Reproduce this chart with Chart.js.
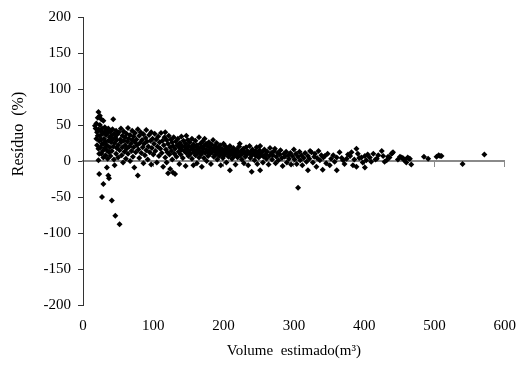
<!DOCTYPE html>
<html>
<head>
<meta charset="utf-8">
<script src="https://cdn.jsdelivr.net/npm/chart.js@4.4.1/dist/chart.umd.min.js"></script>
<style>
  html, body { margin: 0; padding: 0; background: #fff; }
  canvas { display: block; }
</style>
</head>
<body>
<canvas id="residuos" width="518" height="365"></canvas>
<script>
// axis labels and ranges
const tituloX = "Volume  estimado(m³)";
const tituloY = "Resíduo  (%)";
const limitesX = [0, 600];   // passo 100
const limitesY = [-200, 200]; // passo 50

// [volume estimado (m³), resíduo (%)]
const faixa1 = [ // 15 - 40 m³
  [17,49],[18,45],[19,31],[19,52],[20,40],[20,22],[21,60],[21,35],[22,68],[22,44],[22,17],[22,1],
  [23,28],[23,-18],[23,10],[24,63],[24,35],[24,50],[25,19],[25,42],[26,58],[26,10],[26,30],[27,-50],
  [27,45],[27,24],[28,14],[28,38],[29,56],[29,-32],[29,24],[29,5],[30,40],[30,31],[31,18],[31,47],
  [32,8],[32,27],[33,36],[33,43],[34,-9],[34,15],[34,22],[35,39],[35,3],[36,-20],[36,28],[36,45],
  [37,-24],[37,12],[38,33],[38,19],[39,41],[39,7],[40,26],[40,35]
];
const faixa2 = [ // 40 - 100 m³
  [41,-55],[41,14],[42,44],[42,30],[43,58],[43,20],[44,38],[44,2],[45,-6],[45,25],[46,-76],[46,33],
  [47,10],[47,42],[48,18],[48,29],[49,37],[50,5],[50,22],[51,40],[52,-88],[52,15],[53,30],[54,26],
  [54,45],[55,8],[56,35],[56,19],[57,-2],[58,28],[58,41],[59,13],[60,33],[60,22],[61,3],[62,38],
  [62,17],[63,27],[64,46],[64,10],[65,31],[66,20],[67,36],[67,0],[68,24],[69,14],[70,42],[70,29],
  [71,6],[72,34],[72,19],[73,-9],[74,26],[74,39],[75,12],[76,30],[77,22],[78,-20],[78,44],[79,16],
  [80,35],[80,4],[81,25],[82,40],[83,11],[84,29],[85,19],[86,-3],[86,37],[87,24],[88,8],[89,32],
  [90,15],[90,43],[91,27],[92,2],[93,20],[94,36],[95,12],[96,28],[97,-5],[97,40],[98,18],[99,31],[100,9]
];
const faixa3 = [ // 100 - 150 m³
  [101,24],[102,38],[103,14],[104,30],[105,-2],[106,20],[107,34],[108,7],[109,26],[110,17],[111,39],
  [112,11],[113,28],[114,-8],[115,22],[116,33],[117,40],[117,5],[118,16],[119,-2],[119,29],[120,12],
  [121,-17],[121,24],[122,35],[123,9],[124,-11],[124,19],[125,30],[126,14],[127,2],[127,26],[128,-16],
  [128,21],[129,33],[130,10],[131,-18],[131,17],[132,27],[133,6],[134,22],[135,31],[136,13],[137,-4],
  [137,19],[138,25],[139,9],[140,16],[140,34],[141,21],[142,4],[143,28],[144,14],[145,19],[146,-7],
  [146,24],[147,35],[147,11],[148,17],[149,29],[150,7],[150,21]
];
const faixa4 = [ // 150 - 220 m³
  [151,14],[152,26],[153,10],[154,19],[155,31],[155,3],[156,16],[157,-6],[157,23],[158,12],[159,20],
  [160,28],[160,8],[161,15],[162,-3],[162,22],[163,11],[164,18],[165,33],[165,5],[166,14],[167,24],
  [168,9],[168,19],[169,-8],[170,13],[170,27],[171,17],[172,4],[172,21],[173,31],[174,11],[175,16],
  [175,24],[176,0],[177,13],[178,20],[178,7],[179,26],[180,15],[181,10],[181,19],[182,-4],[183,23],
  [184,12],[185,17],[185,29],[186,6],[187,14],[188,21],[189,9],[190,16],[190,25],[191,2],[192,12],
  [193,19],[194,7],[195,14],[195,22],[196,-6],[197,10],[198,17],[199,4],[200,13],[200,24],[201,8],
  [202,15],[203,20],[204,-2],[205,11],[206,17],[207,6],[208,13],[209,-13],[209,21],[210,9],[211,15],
  [212,3],[213,11],[214,18],[215,7],[216,13],[217,-5],[218,10],[219,16],[220,5]
];
const faixa5 = [ // 220 - 300 m³
  [221,12],[222,20],[223,24],[224,8],[225,14],[226,2],[227,10],[228,17],[229,-3],[230,12],[231,6],
  [232,19],[233,9],[234,14],[235,-6],[236,11],[237,21],[238,4],[239,13],[240,-15],[240,8],[241,16],
  [243,10],[244,1],[245,14],[246,7],[247,19],[248,-4],[249,11],[250,5],[251,15],[252,-13],[252,21],
  [253,8],[255,12],[256,-2],[257,6],[258,16],[260,9],[261,3],[262,13],[264,-5],[265,7],[266,18],
  [268,11],[269,2],[270,8],[272,14],[273,17],[274,-3],[275,6],[277,11],[278,1],[280,9],[281,15],
  [283,4],[284,-7],[286,10],[287,6],[289,13],[290,-2],[292,8],[293,3],[295,11],[296,-5],[298,7],
  [300,16],[301,2]
];
const faixa6 = [ // 300 m³ em diante
  [303,10],[304,-4],[306,-37],[306,6],[308,13],[309,1],[311,8],[312,-6],[314,4],[316,11],[318,-1],
  [320,-13],[320,7],[322,3],[323,14],[325,12],[327,-2],[329,6],[330,10],[332,-8],[333,4],[335,14],
  [337,1],[339,8],[341,-12],[342,5],[344,7],[346,-3],[348,10],[351,-6],[353,3],[356,8],[358,-1],
  [361,-13],[361,5],[365,12],[368,4],[370,1],[372,-4],[375,3],[377,9],[380,7],[382,12],[384,-6],
  [386,2],[389,17],[389,-8],[391,10],[393,4],[396,5],[398,-2],[401,7],[401,-9],[403,1],[405,9],
  [408,5],[410,-1],[413,10],[416,2],[418,3],[420,8],[425,14],[427,7],[429,-1],[432,1],[434,6],
  [436,5],[439,10],[440,11],[441,12],[448,2],[451,6],[453,5],[455,4],[457,1],[458,2],[460,-2],
  [462,5],[464,3],[465,3],[467,-5],[485,6],[491,3],[503,6],[506,8],[508,7],[510,7],[540,-4],[571,9]
];

const pontos = [].concat(faixa1, faixa2, faixa3, faixa4, faixa5, faixa6)
  .map(p => ({ x: p[0], y: p[1] }));

const serif = '"Liberation Serif", "Times New Roman", serif';

// y title drawn by hand so it can sit a bit above the plot centre, like the original
const tituloYPlugin = {
  id: "tituloY",
  afterDraw(chart) {
    const ctx = chart.ctx;
    ctx.save();
    ctx.translate(18.5, 134);
    ctx.rotate(-Math.PI / 2);
    ctx.font = "16px " + serif;
    ctx.fillStyle = "#000";
    ctx.textAlign = "center";
    ctx.textBaseline = "middle";
    ctx.fillText(tituloY, 0, 0);
    ctx.restore();
  }
};

new Chart(document.getElementById("residuos"), {
  type: "scatter",
  data: {
    datasets: [{
      data: pontos,
      pointStyle: "rectRot",
      pointRadius: 3,
      pointBorderWidth: 0,
      backgroundColor: "#000",
      borderColor: "#000"
    }]
  },
  options: {
    responsive: false,
    animation: false,
    events: [],
    layout: { padding: { top: 17, right: 12.5, bottom: 0, left: 0 } },
    plugins: { legend: { display: false }, tooltip: { enabled: false } },
    scales: {
      x: {
        type: "linear", position: "bottom",
        min: limitesX[0], max: limitesX[1],
        // invisible tick marks only push the labels down
        grid: { display: true, drawOnChartArea: false, drawTicks: true, tickLength: 10,
                tickColor: "rgba(0,0,0,0)" },
        border: { display: false },
        ticks: { stepSize: 100, padding: 2, color: "#000", font: { family: serif, size: 15 } },
        title: { display: true, text: tituloX, color: "#000", padding: { top: 0, bottom: 5 },
                 font: { family: serif, size: 15 } },
        afterFit: s => { s.height = 60; }
      },
      zero: {
        type: "linear", axis: "x", position: { y: 0 },
        min: limitesX[0], max: limitesX[1],
        ticks: { stepSize: 100, display: false },
        grid: { drawOnChartArea: false, drawTicks: true, tickLength: 5, color: "#8a8a8a", lineWidth: 1 },
        border: { display: true, color: "#8a8a8a", width: 2 }
      },
      y: {
        type: "linear", position: "left",
        min: limitesY[0], max: limitesY[1],
        grid: { drawOnChartArea: false, drawTicks: true, tickLength: 5, color: "#333" },
        border: { display: true, color: "#333", width: 1 },
        ticks: { stepSize: 50, padding: 7, color: "#000", font: { family: serif, size: 15 } },
        afterFit: s => { s.width = 83; }
      }
    }
  },
  plugins: [tituloYPlugin]
});
</script>
</body>
</html>
